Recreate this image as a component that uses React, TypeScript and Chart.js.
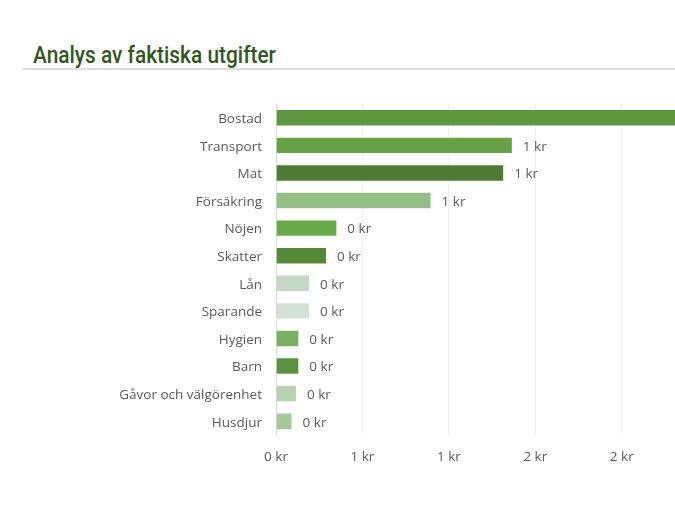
import React, { useEffect, useLayoutEffect, useRef } from "react";
import { Chart, registerables } from "chart.js";

Chart.register(...registerables);

const categories = [
  "Bostad",
  "Transport",
  "Mat",
  "Försäkring",
  "Nöjen",
  "Skatter",
  "Lån",
  "Sparande",
  "Hygien",
  "Barn",
  "Gåvor och välgörenhet",
  "Husdjur",
];

const values = [2.4, 1.37, 1.32, 0.9, 0.355, 0.295, 0.197, 0.197, 0.135, 0.135, 0.121, 0.096];

const barColors = [
  "#5f9640",
  "#68a046",
  "#4f7b33",
  "#94be84",
  "#6aa84a",
  "#568a39",
  "#c4d8c5",
  "#d4e2d5",
  "#79b162",
  "#5a9440",
  "#b7d2b1",
  "#a6c99c",
];

const xMin = 0;
const xMax = 2.308;
const xStep = 0.5;

const TITLE = "Analys av faktiska utgifter";
const LABEL_FONT = "'Open Sans', 'Noto Sans', sans-serif";
const LABEL_SIZE = 13.5;

const fmt = (v: number) => `${Math.round(v)} kr`;

const valueLabels = {
  id: "valueLabels",
  afterDatasetsDraw(chart: any) {
    const ctx = chart.ctx;
    const meta = chart.getDatasetMeta(0);
    const area = chart.chartArea;
    ctx.save();
    ctx.font = `${LABEL_SIZE}px ${LABEL_FONT}`;
    ctx.fillStyle = "#595959";
    ctx.textAlign = "left";
    ctx.textBaseline = "middle";
    meta.data.forEach((el: any, i: number) => {
      const x = el.x + 10;
      if (x > area.right) return;
      ctx.fillText(fmt(values[i]), x, el.y + 1.5);
    });
    ctx.restore();
  },
};

export default function App() {
  const ref = useRef<HTMLCanvasElement | null>(null);
  const titleRef = useRef<HTMLSpanElement | null>(null);

  useLayoutEffect(() => {
    const t = titleRef.current;
    if (!t) return;
    const w = t.getBoundingClientRect().width;
    if (w > 0) t.style.transform = `scaleX(${243 / w})`;
  }, []);

  useEffect(() => {
    if (!ref.current) return;
    const chart = new Chart(ref.current, {
      type: "bar",
      data: {
        labels: categories,
        datasets: [
          {
            data: values,
            backgroundColor: barColors,
            borderColor: "rgba(255,255,255,0.35)",
            borderWidth: 1,
            barPercentage: 0.63,
            categoryPercentage: 1,
          },
        ],
      },
      options: {
        indexAxis: "y",
        animation: false,
        responsive: false,
        maintainAspectRatio: false,
        layout: { padding: { top: 104, right: 0, left: 0, bottom: 0 } },
        plugins: {
          legend: { display: false },
          tooltip: { enabled: false },
          title: { display: false },
        },
        scales: {
          x: {
            min: xMin,
            max: xMax,
            afterFit: (s: any) => {
              s.height = 85;
            },
            ticks: {
              stepSize: xStep,
              includeBounds: false,
              padding: 14,
              color: "#595959",
              font: { family: LABEL_FONT, size: LABEL_SIZE },
              callback: (v: any) => fmt(Number(v)),
              maxRotation: 0,
            },
            grid: { color: "#f0f0f0", drawTicks: false },
            border: { display: false },
          },
          y: {
            afterFit: (s: any) => {
              s.width = 276;
            },
            ticks: {
              padding: 14,
              labelOffset: 1.5,
              color: "#595959",
              font: { family: LABEL_FONT, size: LABEL_SIZE },
            },
            grid: { display: false, drawTicks: false },
            border: { display: true, color: "#d9d9d9", width: 1 },
          },
        },
      },
      plugins: [valueLabels],
    } as any);
    return () => chart.destroy();
  }, []);

  return (
    <div
      style={{
        position: "fixed",
        left: 0,
        top: 0,
        width: 675,
        height: 520,
        background: "#ffffff",
        overflow: "hidden",
      }}
    >
      <span
        ref={titleRef}
        style={{
          position: "absolute",
          left: 33,
          top: 42,
          display: "inline-block",
          transformOrigin: "0 0",
          fontFamily: "Roboto, 'DejaVu Sans Condensed', sans-serif",
          fontWeight: 500,
          fontSize: 23,
          color: "#33561f",
          lineHeight: "28px",
          whiteSpace: "nowrap",
        }}
      >
        {TITLE}
      </span>
      <div
        style={{
          position: "absolute",
          left: 22,
          top: 68,
          width: 653,
          height: 2,
          background: "#dedede",
        }}
      />
      <canvas
        ref={ref}
        width={675}
        height={520}
        style={{ position: "absolute", left: 0, top: 0, width: 675, height: 520 }}
      />
    </div>
  );
}
